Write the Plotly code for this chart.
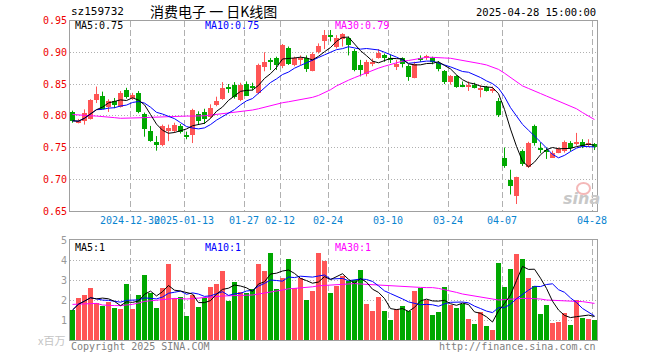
import numpy as np
import pandas as pd
import plotly.graph_objects as go

# ---------------- data ----------------
dates = ("2024-12-16 2024-12-17 2024-12-18 2024-12-19 2024-12-20 2024-12-23 2024-12-24 2024-12-25 "
         "2024-12-26 2024-12-27 2024-12-30 2024-12-31 2025-01-02 2025-01-03 2025-01-06 2025-01-07 "
         "2025-01-08 2025-01-09 2025-01-10 2025-01-13 2025-01-14 2025-01-15 2025-01-16 2025-01-17 "
         "2025-01-20 2025-01-21 2025-01-22 2025-01-23 2025-01-24 2025-01-27 2025-02-05 2025-02-06 "
         "2025-02-07 2025-02-10 2025-02-11 2025-02-12 2025-02-13 2025-02-14 2025-02-17 2025-02-18 "
         "2025-02-19 2025-02-20 2025-02-21 2025-02-24 2025-02-25 2025-02-26 2025-02-27 2025-02-28 "
         "2025-03-03 2025-03-04 2025-03-05 2025-03-06 2025-03-07 2025-03-10 2025-03-11 2025-03-12 "
         "2025-03-13 2025-03-14 2025-03-17 2025-03-18 2025-03-19 2025-03-20 2025-03-21 2025-03-24 "
         "2025-03-25 2025-03-26 2025-03-27 2025-03-28 2025-03-31 2025-04-01 2025-04-02 2025-04-03 "
         "2025-04-07 2025-04-08 2025-04-09 2025-04-10 2025-04-11 2025-04-14 2025-04-15 2025-04-16 "
         "2025-04-17 2025-04-18 2025-04-21 2025-04-22 2025-04-23 2025-04-24 2025-04-25 2025-04-28").split()

opens = [0.806, 0.790, 0.793, 0.796, 0.825, 0.832, 0.815, 0.824, 0.815, 0.841,
         0.830, 0.837, 0.803, 0.777, 0.760, 0.754, 0.777, 0.776, 0.784, 0.769,
         0.771, 0.803, 0.807, 0.799, 0.818, 0.827, 0.845, 0.850, 0.826, 0.851,
         0.847, 0.837, 0.878, 0.887, 0.891, 0.879, 0.907, 0.880, 0.888, 0.892,
         0.871, 0.901, 0.918, 0.926, 0.909, 0.921, 0.923, 0.902, 0.880, 0.867,
         0.883, 0.892, 0.897, 0.890, 0.877, 0.891, 0.879, 0.860, 0.891, 0.892,
         0.891, 0.884, 0.871, 0.854, 0.863, 0.848, 0.846, 0.850, 0.841, 0.846,
         0.841, 0.824, 0.735, 0.700, 0.674, 0.745, 0.720, 0.785, 0.749, 0.746,
         0.735, 0.742, 0.745, 0.758, 0.757, 0.759, 0.755, 0.756]
highs = [0.808, 0.795, 0.810, 0.826, 0.846, 0.838, 0.826, 0.828, 0.839, 0.844,
         0.836, 0.839, 0.805, 0.784, 0.768, 0.786, 0.786, 0.789, 0.787, 0.775,
         0.811, 0.807, 0.811, 0.818, 0.830, 0.853, 0.850, 0.853, 0.852, 0.854,
         0.852, 0.882, 0.900, 0.891, 0.893, 0.913, 0.909, 0.893, 0.895, 0.895,
         0.900, 0.914, 0.935, 0.935, 0.927, 0.930, 0.925, 0.905, 0.888, 0.888,
         0.890, 0.905, 0.898, 0.896, 0.888, 0.892, 0.881, 0.885, 0.895, 0.896,
         0.893, 0.886, 0.872, 0.864, 0.864, 0.854, 0.854, 0.852, 0.848, 0.847,
         0.846, 0.828, 0.750, 0.715, 0.704, 0.747, 0.759, 0.786, 0.758, 0.750,
         0.745, 0.750, 0.761, 0.760, 0.773, 0.763, 0.763, 0.757]
lows = [0.789, 0.788, 0.786, 0.794, 0.820, 0.811, 0.806, 0.812, 0.813, 0.827,
        0.825, 0.804, 0.767, 0.759, 0.745, 0.752, 0.760, 0.773, 0.772, 0.763,
        0.757, 0.786, 0.787, 0.796, 0.815, 0.825, 0.836, 0.827, 0.823, 0.831,
        0.840, 0.834, 0.870, 0.872, 0.872, 0.875, 0.880, 0.878, 0.880, 0.869,
        0.870, 0.898, 0.905, 0.917, 0.906, 0.909, 0.895, 0.870, 0.862, 0.862,
        0.878, 0.890, 0.885, 0.883, 0.872, 0.876, 0.855, 0.859, 0.885, 0.888,
        0.881, 0.870, 0.850, 0.849, 0.844, 0.845, 0.839, 0.843, 0.829, 0.838,
        0.836, 0.798, 0.718, 0.676, 0.661, 0.721, 0.718, 0.753, 0.741, 0.732,
        0.734, 0.741, 0.742, 0.744, 0.753, 0.749, 0.751, 0.746]
closes = [0.792, 0.791, 0.805, 0.825, 0.835, 0.812, 0.824, 0.817, 0.837, 0.830,
          0.833, 0.806, 0.780, 0.761, 0.754, 0.785, 0.782, 0.786, 0.775, 0.768,
          0.810, 0.792, 0.796, 0.813, 0.824, 0.844, 0.844, 0.831, 0.849, 0.832,
          0.846, 0.881, 0.886, 0.886, 0.881, 0.913, 0.883, 0.892, 0.892, 0.875,
          0.898, 0.911, 0.928, 0.925, 0.924, 0.929, 0.913, 0.873, 0.873, 0.885,
          0.886, 0.900, 0.892, 0.889, 0.883, 0.883, 0.862, 0.883, 0.890, 0.893,
          0.885, 0.874, 0.854, 0.863, 0.846, 0.847, 0.850, 0.845, 0.845, 0.840,
          0.842, 0.802, 0.721, 0.690, 0.704, 0.725, 0.758, 0.758, 0.748, 0.744,
          0.742, 0.748, 0.759, 0.750, 0.758, 0.753, 0.756, 0.751]
# volume, millions of shares
volumes = [1.5, 2.08, 2.25, 2.62, 1.83, 1.7, 1.9, 1.6, 1.55, 2.8,
           1.55, 2.25, 3.27, 2.35, 1.6, 2.6, 3.8, 2.1, 2.15, 1.2,
           2.25, 1.65, 2.1, 2.65, 2.8, 3.45, 1.95, 2.9, 2.4, 2.35,
           2.55, 3.8, 3.45, 4.35, 2.55, 3.1, 4.05, 2.6, 3.1, 2.0,
           2.45, 4.35, 3.95, 2.35, 2.72, 3.2, 2.95, 2.98, 3.52, 1.8,
           1.45, 2.15, 1.45, 1.0, 1.55, 1.7, 1.45, 2.45, 2.62, 2.0,
           1.25, 1.4, 2.65, 1.77, 1.6, 1.8, 1.05, 0.8, 1.42, 0.72,
           0.5, 3.85, 2.65, 3.55, 4.3, 4.05, 3.1, 2.7, 1.3, 1.75,
           0.85, 0.9, 1.35, 0.75, 1.98, 1.1, 1.05, 1.0]
# 30-day averages as drawn (they include days before the window)
price_ma30 = [0.802, 0.801, 0.800, 0.800, 0.7995, 0.799, 0.798, 0.797, 0.796, 0.796,
              0.796, 0.797, 0.797, 0.7975, 0.798, 0.798, 0.7985, 0.799, 0.799, 0.7995,
              0.7995, 0.7995, 0.800, 0.801, 0.802, 0.803, 0.804, 0.805, 0.8065, 0.808,
              0.809, 0.811, 0.8135, 0.8165, 0.819, 0.8205, 0.822, 0.8235, 0.825, 0.827,
              0.829, 0.832, 0.836, 0.841, 0.847, 0.852, 0.856, 0.860, 0.864, 0.868,
              0.871, 0.875, 0.878, 0.881, 0.884, 0.886, 0.887, 0.889, 0.8905, 0.892,
              0.892, 0.892, 0.891, 0.8905, 0.889, 0.8875, 0.886, 0.884, 0.882, 0.880,
              0.877, 0.873, 0.867, 0.860, 0.853, 0.847, 0.843, 0.8385, 0.835, 0.831,
              0.827, 0.823, 0.819, 0.815, 0.811, 0.805, 0.799, 0.794]
volume_ma30 = [1.78, 1.80, 1.81, 1.82, 1.83, 1.75, 1.72, 1.72, 1.72, 1.74,
               1.78, 1.85, 1.93, 1.96, 1.99, 2.01, 2.05, 2.08, 2.07, 2.05,
               2.07, 2.10, 2.13, 2.16, 2.18, 2.20, 2.21, 2.22, 2.23, 2.24,
               2.25, 2.30, 2.34, 2.40, 2.45, 2.50, 2.56, 2.58, 2.60, 2.62,
               2.66, 2.71, 2.73, 2.76, 2.79, 2.81, 2.83, 2.82, 2.80, 2.78,
               2.78, 2.76, 2.74, 2.72, 2.70, 2.68, 2.66, 2.64, 2.63, 2.62,
               2.62, 2.58, 2.52, 2.45, 2.38, 2.30, 2.25, 2.21, 2.16, 2.10,
               2.05, 2.00, 2.02, 2.05, 2.08, 2.08, 2.08, 2.08, 2.05, 2.00,
               1.98, 1.96, 1.95, 1.94, 1.93, 1.92, 1.88, 1.83]
tick_dates = ["2024-12-30", "2025-01-13", "2025-01-27", "2025-02-12", "2025-02-24",
              "2025-03-10", "2025-03-24", "2025-04-07", "2025-04-28"]
tick_labels = ["2024-12-30", "2025-01-13", "01-27", "02-12", "02-24",
               "03-10", "03-24", "04-07", "04-28"]
price_ticks = [0.65, 0.70, 0.75, 0.80, 0.85, 0.90, 0.95]
volume_ticks = [1, 2, 3, 4, 5]

# ---------------- derived ----------------
W, H = 660, 360
n = len(dates)
idx = np.arange(n)
o, h, l, c = map(np.array, (opens, highs, lows, closes))
v = np.array(volumes)
up = c >= o
RED, GREEN = "#ff5555", "#00a800"
cols = np.where(up, RED, GREEN)

cs = pd.Series(c)
ma5 = cs.rolling(5, min_periods=1).mean()
ma10 = cs.rolling(10, min_periods=1).mean()
vs = pd.Series(v)
vma5 = vs.rolling(5, min_periods=1).mean()
vma10 = vs.rolling(10, min_periods=1).mean()

MONO = "DejaVu Sans Mono"
CJK = "Noto Sans CJK SC"

def fx(px):
    return px / W

def fy(py):
    return 1 - py / H

X0, X1 = 70, 597
xr = [-0.5 + 1 / 12, n - 0.5 - 1 / 12]  # 6 px per trading day
tickpos = [dates.index(d) - 5 / 12 for d in tick_dates]
body_w = 5 / 6
min_body = 0.0016  # ~1 px so doji crosses stay visible

fig = go.Figure()

# wicks
for mask, col in ((up, RED), (~up, GREEN)):
    xs, ys = [], []
    for i in idx[mask]:
        xs += [i, i, None]
        ys += [l[i], h[i], None]
    fig.add_trace(go.Scatter(x=xs, y=ys, mode="lines", line=dict(color=col, width=1),
                             hoverinfo="skip", showlegend=False, xaxis="x", yaxis="y"))
# bodies
fig.add_trace(go.Bar(x=idx, y=np.maximum(np.abs(c - o), min_body), base=np.minimum(o, c),
                     width=body_w, marker=dict(color=cols, line=dict(width=0)),
                     showlegend=False, xaxis="x", yaxis="y"))
# price MAs
for ser, col in ((price_ma30, "#ff00ff"), (ma10, "#0000ff"), (ma5, "#000000")):
    fig.add_trace(go.Scatter(x=idx, y=list(ser), mode="lines", line=dict(color=col, width=1),
                             showlegend=False, xaxis="x", yaxis="y"))
# volume bars
fig.add_trace(go.Bar(x=idx, y=v, width=body_w, marker=dict(color=cols, line=dict(width=0)),
                     showlegend=False, xaxis="x2", yaxis="y2"))
for ser, col in ((volume_ma30, "#ff00ff"), (vma10, "#0000ff"), (vma5, "#000000")):
    fig.add_trace(go.Scatter(x=idx, y=list(ser), mode="lines", line=dict(color=col, width=1),
                             showlegend=False, xaxis="x2", yaxis="y2"))

GRID = "#b0b0b0"
FRAME = "#a0a0a0"
common_x = dict(range=xr, tickmode="array", tickvals=tickpos, showgrid=True, gridcolor=GRID,
                griddash="6px,3px", gridwidth=1, zeroline=False, showline=True, mirror=True,
                linecolor=FRAME, linewidth=1, ticks="", fixedrange=True, automargin=False,
                tickangle=0)
common_y = dict(tickmode="array", showgrid=True, gridcolor=GRID, griddash="1px,2px",
                zeroline=False, showline=True, mirror=True, linecolor=FRAME, linewidth=1,
                ticks="", fixedrange=True, automargin=False)

fig.update_layout(
    width=W, height=H, margin=dict(l=0, r=0, t=0, b=0, autoexpand=False),
    paper_bgcolor="white", plot_bgcolor="white", barmode="overlay", bargap=0,
    xaxis=dict(domain=[fx(X0), fx(X1)], anchor="y", ticktext=tick_labels,
               tickfont=dict(family=MONO, size=10, color="#0a84d0"), **common_x),
    xaxis2=dict(domain=[fx(X0), fx(X1)], anchor="y2", showticklabels=False, **common_x),
    yaxis=dict(domain=[fy(211), fy(20.5)], range=[0.65, 0.95],
               tickvals=price_ticks, ticktext=[f"{t:.2f}" for t in price_ticks],
               tickfont=dict(family=MONO, size=10, color="#ee0000"), **common_y),
    yaxis2=dict(domain=[fy(340), fy(240)], range=[0, 5],
                tickvals=volume_ticks, ticktext=[str(t) for t in volume_ticks],
                tickfont=dict(family=MONO, size=10, color="#999999"), **common_y),
    showlegend=False,
)

def note(text, x, y, xanchor="left", color="#000", size=10, family=MONO, **kw):
    fig.add_annotation(text=text, x=fx(x), y=fy(y), xref="paper", yref="paper",
                       xanchor=xanchor, yanchor="middle", showarrow=False,
                       font=dict(family=family, size=size, color=color), **kw)

note("sz159732", 69, 12, size=11)
note("消费电子 一 日K线图", 148, 11, size=14, family=CJK)
note("2025-04-28 15:00:00", 598, 12, xanchor="right", size=10.5)

note(f"MA5:{ma5.iloc[-1]:.2f}", 73, 26)
note(f"MA10:{ma10.iloc[-1]:.2f}", 203, 26, color="#0000ff")
note(f"MA30:{price_ma30[-1]:.2f}", 333, 26, color="#ff00ff")

note(f"MA5:{int(vma5.iloc[-1])}", 73, 247)
note(f"MA10:{int(vma10.iloc[-1])}", 203, 247, color="#0000ff")
note(f"MA30:{int(volume_ma30[-1])}", 333, 247, color="#ff00ff")

note("x百万", 67, 340, xanchor="right", color="#c4c4c4", size=11, family=CJK)
note("Copyright 2025 SINA.COM", 69, 346, color="#808080")
note("http://finance.sina.com.cn", 598, 346, xanchor="right", color="#808080")

# sina watermark
fig.add_shape(type="circle", xref="paper", yref="paper", x0=fx(577), x1=fx(590),
              y0=fy(194), y1=fy(183), line=dict(color="#f4b8b8", width=2), fillcolor="rgba(0,0,0,0)")
note("<b><i>sina</i></b>", 581, 198, xanchor="center", color="#c8c8c8", size=16, family="DejaVu Sans")

fig.write_html("out.html", config={"displayModeBar": False},
               post_script="document.body.style.margin='0';")
